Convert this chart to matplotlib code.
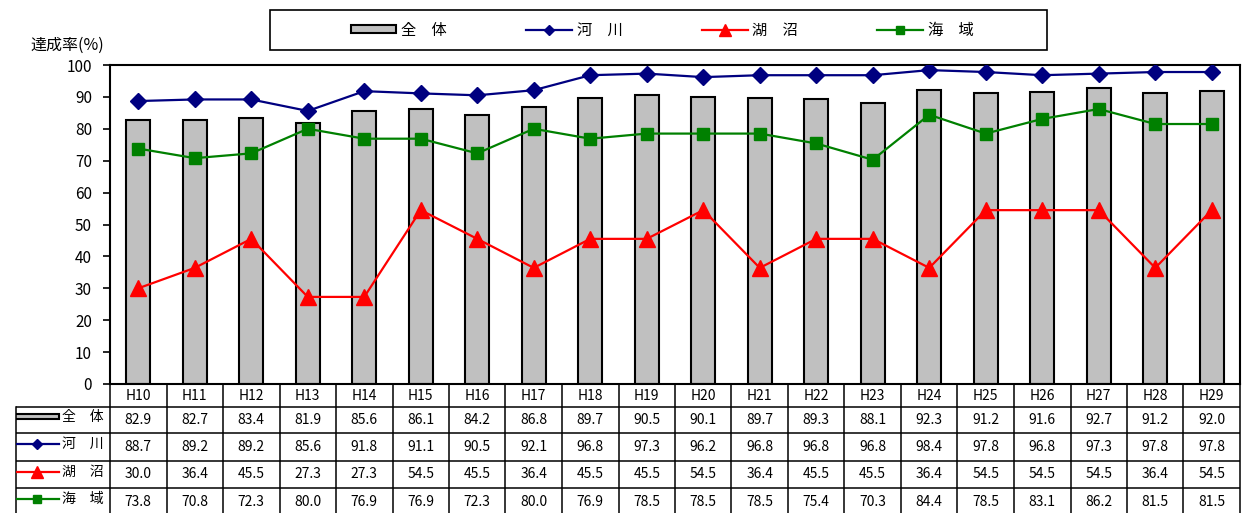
import numpy as np
import matplotlib
matplotlib.use('Agg')
import matplotlib.pyplot as plt
from matplotlib.patches import Rectangle, Patch
from matplotlib.lines import Line2D

plt.rcParams['font.family'] = ['Noto Sans CJK JP', 'DejaVu Sans']

years = ['H10', 'H11', 'H12', 'H13', 'H14', 'H15', 'H16', 'H17', 'H18', 'H19',
         'H20', 'H21', 'H22', 'H23', 'H24', 'H25', 'H26', 'H27', 'H28', 'H29']
total = [82.9, 82.7, 83.4, 81.9, 85.6, 86.1, 84.2, 86.8, 89.7, 90.5,
         90.1, 89.7, 89.3, 88.1, 92.3, 91.2, 91.6, 92.7, 91.2, 92.0]
river = [88.7, 89.2, 89.2, 85.6, 91.8, 91.1, 90.5, 92.1, 96.8, 97.3,
         96.2, 96.8, 96.8, 96.8, 98.4, 97.8, 96.8, 97.3, 97.8, 97.8]
lake = [30.0, 36.4, 45.5, 27.3, 27.3, 54.5, 45.5, 36.4, 45.5, 45.5,
        54.5, 36.4, 45.5, 45.5, 36.4, 54.5, 54.5, 54.5, 36.4, 54.5]
sea = [73.8, 70.8, 72.3, 80.0, 76.9, 76.9, 72.3, 80.0, 76.9, 78.5,
       78.5, 78.5, 75.4, 70.3, 84.4, 78.5, 83.1, 86.2, 81.5, 81.5]
row_names = ['全\u3000体', '河\u3000川', '湖\u3000沼', '海\u3000域']

W, H = 1244, 513
fig = plt.figure(figsize=(W / 100, H / 100), dpi=100)

x = np.arange(len(years))
col_w = 56.5  # one category in pixels

# main chart
ax = fig.add_axes([110 / W, 1 - 384 / H, 1130 / W, 319 / H])
ax.bar(x, total, width=0.42, color='#C0C0C0', edgecolor='black', linewidth=1.5, zorder=2)
ax.plot(x, river, color='#000080', lw=1.6, marker='D', ms=8.5, mew=1, zorder=3)
ax.plot(x, lake, color='#FF0000', lw=1.6, marker='^', ms=11, mew=1, zorder=3)
ax.plot(x, sea, color='#008000', lw=1.6, marker='s', ms=8, mew=1, zorder=3)
ax.set_xlim(-0.5, len(years) - 0.5)
ax.set_ylim(0, 100)
ax.set_yticks(range(0, 101, 10))
ax.set_xticks([])
ax.tick_params(axis='y', direction='out', length=5, width=1.2, labelsize=11, pad=8)
for s in ax.spines.values():
    s.set_linewidth(1.5)
fig.text(30 / W, 1 - 45 / H, '達成率(%)', fontsize=11.5, va='center', ha='left')

# data table under the chart
lab_w = (110 - 16) / col_w
tax = fig.add_axes([16 / W, 0, (1240 - 16) / W, (H - 384) / H])
tax.set_xlim(-0.5 - lab_w, len(years) - 0.5)
tax.set_ylim(129, 0)
tax.axis('off')


def px(xp):
    return -0.5 + (xp - 110) / col_w


row_edges = [0, 23, 49, 77, 104, 131]
lw_t = 1.1
for k in range(len(years) + 1):
    tax.plot([k - 0.5, k - 0.5], [0, 131], color='black', lw=lw_t, clip_on=False)
tax.plot([-0.5 - lab_w] * 2, [23, 131], color='black', lw=lw_t, clip_on=False)
for yy in row_edges[1:-1]:
    tax.plot([-0.5 - lab_w, len(years) - 0.5], [yy, yy], color='black', lw=lw_t)

for i, yr in enumerate(years):
    tax.text(i, 11.5, yr, ha='center', va='center', fontsize=10)

series = [total, river, lake, sea]
for r, vals in enumerate(series):
    cy = (row_edges[r + 1] + row_edges[r + 2]) / 2
    for i, v in enumerate(vals):
        tax.text(i, cy, f'{v:.1f}', ha='center', va='center', fontsize=10)
    tax.text(px(62), cy - 3, row_names[r], ha='left', va='center', fontsize=10)

# row handles in the label column
cy0 = (row_edges[1] + row_edges[2]) / 2
tax.add_patch(Rectangle((px(15), cy0 - 6), px(59) - px(15), 5, facecolor='#C0C0C0',
                        edgecolor='black', lw=1.5))
styles = [('#000080', 'D', 5), ('#FF0000', '^', 8), ('#008000', 's', 6)]
for r, (c, m, ms) in enumerate(styles, start=1):
    cy = (row_edges[r + 1] + row_edges[r + 2]) / 2 - 3
    tax.plot([px(15), px(59)], [cy, cy], color=c, lw=1.6)
    tax.plot([px(37)], [cy], color=c, marker=m, ms=ms, ls='none')

# legend at the top
fig.patches.append(Rectangle((270 / W, 1 - 50 / H), 777 / W, 40 / H, transform=fig.transFigure,
                             facecolor='white', edgecolor='black', lw=1.2))
handles = [Patch(facecolor='#C0C0C0', edgecolor='black', lw=1.5),
           Line2D([], [], color='#000080', lw=1.6, marker='D', ms=5),
           Line2D([], [], color='#FF0000', lw=1.6, marker='^', ms=8),
           Line2D([], [], color='#008000', lw=1.6, marker='s', ms=6)]
fig.legend(handles, row_names, loc='center', bbox_to_anchor=(662 / W, 1 - 30 / H), ncol=4,
           frameon=False, fontsize=11, handlelength=3.0, handleheight=0.4,
           handletextpad=0.3, columnspacing=5.2)

fig.savefig('out.png', dpi=100)
